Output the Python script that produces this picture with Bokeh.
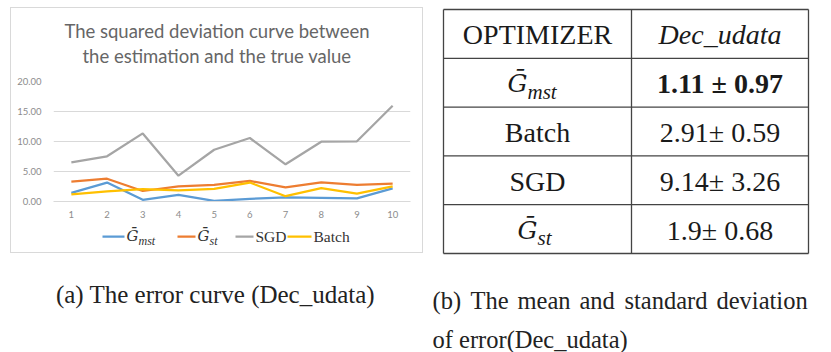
from bokeh.plotting import figure
from bokeh.layouts import row, column
from bokeh.models import Range1d, FixedTicker, NumeralTickFormatter, Spacer
from bokeh.core.properties import value
from bokeh.embed import file_html
from bokeh.resources import INLINE

# ---------------- data ----------------
runs = [1, 2, 3, 4, 5, 6, 7, 8, 9, 10]
gmst = [1.45, 3.15, 0.28, 1.10, 0.10, 0.45, 0.70, 0.62, 0.52, 2.20]
gst = [3.33, 3.80, 1.75, 2.52, 2.78, 3.42, 2.36, 3.17, 2.78, 2.97]
sgd = [6.52, 7.53, 11.35, 4.30, 8.63, 10.58, 6.20, 9.97, 10.03, 15.95]
batch = [1.20, 1.67, 2.05, 1.85, 2.10, 3.16, 0.88, 2.22, 1.30, 2.52]
series_main = ["\u1E20", "\u1E20", "SGD", "Batch"]
series_sub = ["mst", "st", "", ""]
series_italic = [True, True, False, False]
series_colors = ["#5b9bd5", "#ed7d31", "#a5a5a5", "#ffc000"]
y_ticks = [0, 5, 10, 15, 20]

title_lines = ["The squared deviation curve between", "the estimation and the true value"]
caption_a = "(a) The error curve (Dec_udata)"
caption_b1_words = ["(b)", "The", "mean", "and", "standard", "deviation"]
caption_b2 = "of error(Dec_udata)"

table_header = ["OPTIMIZER", "Dec_udata"]
table_names = ["\u1E20", "Batch", "SGD", "\u1E20"]
table_name_subs = ["mst", "", "", "st"]
table_values = ["1.11 \u00B1 0.97", "2.91\u00B1 0.59", "9.14\u00B1 3.26", "1.9\u00B1 0.68"]
table_bold = [True, False, False, False]

SERIF = "Liberation Serif"
MATH = "DejaVu Serif"
SANS = "Lato"
COMMON = dict(output_backend="svg", toolbar_location=None, frame_align=False)
NOBORDER = dict(x_axis_location=None, y_axis_location=None, min_border=0,
                min_border_left=0, min_border_right=0,
                min_border_top=0, min_border_bottom=0)


def blank(fig):
    fig.outline_line_color = None
    fig.grid.visible = False
    fig.background_fill_color = "white"
    fig.border_fill_color = "white"
    return fig


# ---------------- chart box: title ----------------
BOX_L, BOX_T, BOX_W = 11, 8, 411
TITLE_H = 65
tf = blank(figure(width=BOX_W, height=TITLE_H,
                  x_range=Range1d(BOX_L, BOX_L + BOX_W),
                  y_range=Range1d(BOX_T + TITLE_H, BOX_T), **NOBORDER, **COMMON))
tf.text(x=[216.5, 216.5], y=[30, 55], text=title_lines, text_font=value(SANS),
        text_font_size="18.5px", text_color="#666666", text_align="center",
        text_baseline="middle")

# ---------------- chart box: line chart ----------------
CH_T = BOX_T + TITLE_H
CH_H = 151
p = figure(width=BOX_W, height=CH_H,
           x_range=Range1d(0.5, 10.5), y_range=Range1d(0, 20),
           min_border_left=42, min_border_right=12,
           min_border_top=8, min_border_bottom=23, **COMMON)
p.outline_line_color = None
p.background_fill_color = "white"
p.border_fill_color = "white"
p.xgrid.visible = False
p.ygrid.grid_line_color = "#d9d9d9"
p.ygrid.grid_line_width = 1

p.yaxis.ticker = FixedTicker(ticks=y_ticks)
p.yaxis.formatter = NumeralTickFormatter(format="0.00")
p.yaxis.axis_line_color = None
p.yaxis.major_tick_line_color = None
p.yaxis.minor_tick_line_color = None
p.yaxis.major_tick_out = 0
p.yaxis.minor_tick_out = 0
p.yaxis.major_label_text_font = SANS
p.yaxis.major_label_text_font_size = "9.5px"
p.yaxis.major_label_text_color = "#8c8c8c"
p.yaxis.major_label_standoff = 12

p.xaxis.ticker = FixedTicker(ticks=runs)
p.xaxis.axis_line_color = "#d9d9d9"
p.xaxis.major_tick_line_color = None
p.xaxis.minor_tick_line_color = None
p.xaxis.major_tick_out = 0
p.xaxis.minor_tick_out = 0
p.xaxis.major_label_text_font = SANS
p.xaxis.major_label_text_font_size = "9.5px"
p.xaxis.major_label_text_color = "#8c8c8c"
p.xaxis.major_label_standoff = 9

for vals, col in zip([gmst, gst, sgd, batch], series_colors):
    p.line(runs, vals, line_color=col, line_width=2.25)

# ---------------- chart box: legend strip ----------------
LG_T = CH_T + CH_H
LG_H = 252 - LG_T
lf = blank(figure(width=BOX_W, height=LG_H,
                  x_range=Range1d(BOX_L, BOX_L + BOX_W),
                  y_range=Range1d(LG_T + LG_H, LG_T), **NOBORDER, **COMMON))
leg_line_x0 = [102, 177, 235, 287]
leg_line_x1 = [124, 195, 253, 311]
leg_y = 236
lf.segment(x0=leg_line_x0, x1=leg_line_x1, y0=[leg_y] * 4, y1=[leg_y] * 4,
           line_color=series_colors, line_width=2.25)
for x1, main, sub, ital in zip(leg_line_x1, series_main, series_sub, series_italic):
    lf.text(x=[x1 + 2], y=[leg_y - (1 if ital else 0)], text=[main],
            text_font=value(MATH if ital else SERIF),
            text_font_style="italic" if ital else "normal",
            text_font_size="15px" if ital else "15.5px", text_color="#333333",
            text_align="left", text_baseline="middle")
    if sub:
        lf.text(x=[x1 + 14], y=[leg_y + 4], text=[sub], text_font=value(SERIF),
                text_font_style="italic", text_font_size="12px", text_color="#333333",
                text_align="left", text_baseline="middle")

box = column(tf, p, lf, spacing=0, styles={"border": "1px solid #d9d9d9"})

# ---------------- caption (a) ----------------
LEFT_W = 425
CAP_T = 254
CAP_H = 352 - CAP_T
cf = blank(figure(width=LEFT_W, height=CAP_H,
                  x_range=Range1d(0, LEFT_W), y_range=Range1d(352, CAP_T),
                  **NOBORDER, **COMMON))
cf.text(x=[215], y=[295], text=[caption_a], text_font=value(SERIF),
        text_font_size="25px", text_align="center", text_baseline="middle",
        text_color="#222222")

left = column(Spacer(height=BOX_T - 1),
              row(Spacer(width=BOX_L - 1), box, spacing=0),
              cf, spacing=0)

# ---------------- right: table ----------------
RW = 831 - LEFT_W
t = blank(figure(width=RW, height=352,
                 x_range=Range1d(LEFT_W, 831), y_range=Range1d(352, 0),
                 **NOBORDER, **COMMON))

tab_left, tab_split, tab_right = 443, 631, 808
tab_top, row_h = 9, 48.8
n_rows = 1 + len(table_names)
row_edges = [tab_top + row_h * k for k in range(n_rows + 1)]
row_mid = [tab_top + row_h * (k + 0.5) for k in range(n_rows)]
c1 = (tab_left + tab_split) / 2
c2 = (tab_split + tab_right) / 2

t.segment(x0=[tab_left] * len(row_edges), x1=[tab_right] * len(row_edges),
          y0=row_edges, y1=row_edges, line_color="#444444", line_width=1.3)
t.segment(x0=[tab_left, tab_split, tab_right], x1=[tab_left, tab_split, tab_right],
          y0=[row_edges[0]] * 3, y1=[row_edges[-1]] * 3,
          line_color="#444444", line_width=1.3)

TS = "28px"
t.text(x=[c1], y=[row_mid[0] + 1], text=[table_header[0]], text_font=value(SERIF),
       text_font_size=TS, text_align="center", text_baseline="middle", text_color="#1a1a1a")
t.text(x=[c2], y=[row_mid[0] + 1], text=[table_header[1]], text_font=value(SERIF),
       text_font_style="italic",
       text_font_size=TS, text_align="center", text_baseline="middle", text_color="#1a1a1a")

plain_x, plain_y, plain_t = [], [], []
for k, (nm, sub) in enumerate(zip(table_names, table_name_subs)):
    y = row_mid[k + 1] + 1
    if sub:
        gx = c1 - 10 if len(sub) == 3 else c1
        t.text(x=[gx], y=[y], text=[nm], text_font=value(MATH), text_font_style="italic",
               text_font_size="25px", text_align="right", text_baseline="middle",
               text_color="#1a1a1a")
        t.text(x=[gx], y=[y + 8], text=[sub], text_font=value(SERIF),
               text_font_style="italic", text_font_size="21px", text_align="left",
               text_baseline="middle", text_color="#1a1a1a")
    else:
        plain_x.append(c1)
        plain_y.append(y)
        plain_t.append(nm)
t.text(x=plain_x, y=plain_y, text=plain_t, text_font=value(SERIF), text_font_size=TS,
       text_align="center", text_baseline="middle", text_color="#1a1a1a")

for k, (v, b) in enumerate(zip(table_values, table_bold)):
    t.text(x=[c2], y=[row_mid[k + 1] + 1], text=[v], text_font=value(SERIF),
           text_font_style="bold" if b else "normal", text_font_size=TS,
           text_align="center", text_baseline="middle", text_color="#1a1a1a")

# caption (b): first line justified to the table width, second line ragged
word_x = [432, 470, 517, 579, 624, 716]
t.text(x=word_x, y=[300] * len(word_x), text=caption_b1_words, text_font=value(SERIF),
       text_font_size="24.5px", text_align="left", text_baseline="middle",
       text_color="#222222")
t.text(x=[432], y=[339], text=[caption_b2], text_font=value(SERIF),
       text_font_size="24.5px", text_align="left", text_baseline="middle",
       text_color="#222222")

layout = row(left, t, spacing=0)
open("out.html", "w").write(file_html(layout, INLINE))
